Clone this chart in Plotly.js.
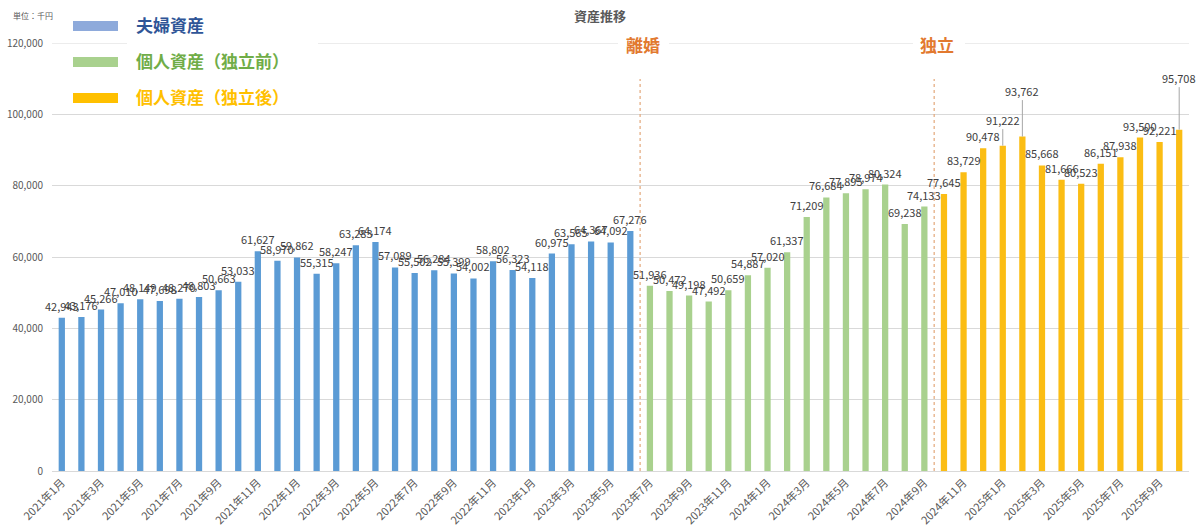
<!DOCTYPE html>
<html>
<head>
<meta charset="utf-8">
<script src="https://cdn.plot.ly/plotly-3.0.1.min.js"></script>
<style>
  body { margin: 0; background: #fff; }
  #fig { width: 1200px; height: 532px; }
</style>
</head>
<body>
<div id="fig"></div>
<script>
// 月 (カテゴリ)
var months = [
  '2021年1月','2021年2月','2021年3月','2021年4月','2021年5月','2021年6月',
  '2021年7月','2021年8月','2021年9月','2021年10月','2021年11月','2021年12月',
  '2022年1月','2022年2月','2022年3月','2022年4月','2022年5月','2022年6月',
  '2022年7月','2022年8月','2022年9月','2022年10月','2022年11月','2022年12月',
  '2023年1月','2023年2月','2023年3月','2023年4月','2023年5月','2023年6月',
  '2023年7月','2023年8月','2023年9月','2023年10月','2023年11月','2023年12月',
  '2024年1月','2024年2月','2024年3月','2024年4月','2024年5月','2024年6月',
  '2024年7月','2024年8月','2024年9月','2024年10月','2024年11月','2024年12月',
  '2025年1月','2025年2月','2025年3月','2025年4月','2025年5月','2025年6月',
  '2025年7月','2025年8月','2025年9月','2025年10月'
];

// 夫婦資産 2021年1月〜2023年6月
var coupleAssets = [42943, 43176, 45266, 47010, 48149, 47698, 48270, 48803, 50663, 53033,
                    61627, 58970, 59862, 55315, 58247, 63283, 64174, 57089, 55502, 56284,
                    55399, 54002, 58802, 56323, 54118, 60975, 63565, 64367, 64092, 67276];
// 個人資産（独立前） 2023年7月〜2024年9月
var beforeIndep = [51936, 50472, 49198, 47492, 50659, 54887, 57020, 61337, 71209, 76684,
                   77895, 78974, 80324, 69238, 74133];
// 個人資産（独立後） 2024年10月〜2025年10月
var afterIndep = [77645, 83729, 90478, 91222, 93762, 85668, 81666, 80523, 86151, 87938,
                  93500, 92221, 95708];

var seriesNames = ['夫婦資産', '個人資産（独立前）', '個人資産（独立後）'];
var barColors = ['#5b9bd5', '#a9d18e', '#fbbd14'];
var legendColors = ['#8eaadb', '#a9d18e', '#ffc000'];
var legendTextColors = ['#2f5597', '#70ad47', '#ffc000'];

var tickMonths = months.filter(function (m, i) { return i % 2 === 0; });

// ラベルを引出線で持ち上げる月
var leaderLabels = { '2025年1月': -26, '2025年2月': -46, '2025年10月': -52 };

var n1 = coupleAssets.length, n2 = beforeIndep.length;
var groups = [
  { x: months.slice(0, n1), y: coupleAssets },
  { x: months.slice(n1, n1 + n2), y: beforeIndep },
  { x: months.slice(n1 + n2), y: afterIndep }
];

var data = groups.map(function (g, k) {
  return {
    type: 'bar', x: g.x, y: g.y, name: seriesNames[k],
    marker: { color: barColors[k] }, showlegend: false, hoverinfo: 'x+y'
  };
});

// plot area in pixels (for paper-placed decorations)
var L = 52, R = 11, T = 43, B = 61, W = 1200, H = 532;
var pw = W - L - R, ph = H - T - B;
function px(x) { return (x - L) / pw; }
function py(y) { return (H - B - y) / ph; }

var annotations = [];
groups.forEach(function (g) {
  g.x.forEach(function (m, i) {
    var a = {
      x: m, y: g.y[i], xref: 'x', yref: 'y',
      text: g.y[i].toLocaleString('en-US'),
      font: { size: 11, color: '#404040', family: 'Noto Sans CJK JP, sans-serif' }
    };
    if (leaderLabels[m] !== undefined) {
      a.showarrow = true; a.arrowhead = 0; a.arrowwidth = 1; a.arrowcolor = '#a6a6a6';
      a.ax = 0; a.ay = leaderLabels[m]; a.standoff = 0;
    } else {
      a.showarrow = false; a.yanchor = 'bottom'; a.yshift = 2;
    }
    annotations.push(a);
  });
});

function paperText(x, y, text, size, color, xanchor) {
  annotations.push({ xref: 'paper', yref: 'paper', x: px(x), y: py(y),
    xanchor: xanchor || 'center', yanchor: 'middle', showarrow: false, text: text,
    font: { size: size, color: color, family: 'Noto Sans CJK JP' } });
}

// title, unit, event labels
paperText(600, 15, '<b>資産推移</b>', 13, '#595959');
paperText(11, 15, '単位：千円', 8, '#595959', 'left');
paperText(643, 45, '<b>離婚</b>', 17, '#e2792f');
paperText(937, 45, '<b>独立</b>', 17, '#e2792f');

var shapes = [];
// top gridline (120,000)
shapes.push({ type: 'line', xref: 'paper', yref: 'y', x0: 0, x1: 1, y0: 120000, y1: 120000,
  layer: 'below', line: { color: '#d9d9d9', width: 1 } });

// legend
var legendY = [26, 62, 98];
seriesNames.forEach(function (name, k) {
  shapes.push({ type: 'rect', xref: 'paper', yref: 'paper', layer: 'above',
    x0: px(73), x1: px(118), y0: py(legendY[k] - 5), y1: py(legendY[k] + 5),
    fillcolor: legendColors[k], line: { width: 0 } });
  paperText(134, legendY[k] - 2, '<b>' + name + '</b>', 17, legendTextColors[k], 'left');
});

// white patches breaking the top gridline
[[127, 318], [618, 669], [913, 965]].forEach(function (r) {
  shapes.push({ type: 'rect', xref: 'paper', yref: 'paper', layer: 'above',
    x0: px(r[0]), x1: px(r[1]), y0: py(48), y1: py(38),
    fillcolor: '#ffffff', line: { width: 0 } });
});

// dotted event lines between groups
[n1 - 0.5, n1 + n2 - 0.5].forEach(function (xv) {
  shapes.push({ type: 'line', xref: 'x', yref: 'paper', x0: xv, x1: xv,
    y0: 0, y1: py(79), line: { color: '#e3a77a', width: 1.2, dash: 'dot' } });
});

var layout = {
  width: W, height: H,
  margin: { l: L, r: R, t: T, b: B },
  paper_bgcolor: '#fff', plot_bgcolor: '#fff',
  barmode: 'overlay', bargap: 0.68,
  font: { family: 'Noto Sans CJK JP, sans-serif', color: '#595959' },
  xaxis: {
    type: 'category', categoryorder: 'array', categoryarray: months,
    tickmode: 'array', tickvals: tickMonths, ticktext: tickMonths,
    tickangle: -45, tickfont: { size: 11, color: '#595959' },
    showline: true, linecolor: '#d9d9d9', showgrid: false, ticks: '',
    range: [-0.5, months.length - 0.5]
  },
  yaxis: {
    range: [0, 120000], dtick: 20000, tickformat: ',d',
    tickfont: { size: 10, color: '#595959' },
    gridcolor: '#d9d9d9', zeroline: false, ticklabelstandoff: 8
  },
  annotations: annotations,
  shapes: shapes
};

Plotly.newPlot('fig', data, layout, { displayModeBar: false, staticPlot: true });
</script>
</body>
</html>
